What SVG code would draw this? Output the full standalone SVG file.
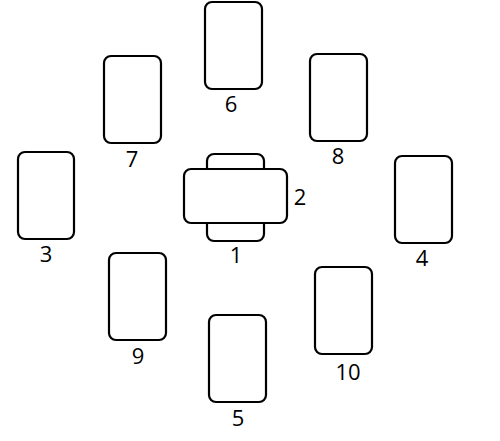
<svg xmlns="http://www.w3.org/2000/svg" width="500" height="441" viewBox="0 0 500 441">
<style>
.card{fill:#fff;stroke:#000;stroke-width:2.2}
.lbl{font-family:"Open Sans","Liberation Sans",sans-serif;font-size:22px;fill:#000;text-anchor:middle}
</style>
<rect width="500" height="441" fill="#fff"/>
<g id="connectors"></g>
<g id="node6"><rect class="card" x="205" y="2" width="57" height="87" rx="7"/><text class="lbl" x="231" y="112">6</text></g>
<g id="node7"><rect class="card" x="104" y="56" width="57" height="87" rx="7"/><text class="lbl" x="132" y="167">7</text></g>
<g id="node8"><rect class="card" x="310" y="54" width="57" height="87" rx="7"/><text class="lbl" x="338" y="164">8</text></g>
<g id="node3"><rect class="card" x="18" y="152" width="56" height="87" rx="7"/><text class="lbl" x="46" y="262">3</text></g>
<g id="node4"><rect class="card" x="395" y="156" width="57" height="87" rx="7"/><text class="lbl" x="422" y="266">4</text></g>
<g id="node1"><rect class="card" x="207" y="154" width="57" height="87" rx="7"/><text class="lbl" x="236" y="263">1</text></g>
<g id="node2"><rect class="card" x="184" y="169" width="103" height="54" rx="7"/><text class="lbl" x="300" y="205">2</text></g>
<g id="node9"><rect class="card" x="109" y="253" width="57" height="87" rx="7"/><text class="lbl" x="138" y="364">9</text></g>
<g id="node10"><rect class="card" x="315" y="267" width="57" height="87" rx="7"/><text class="lbl" x="348" y="380">10</text></g>
<g id="node5"><rect class="card" x="209" y="315" width="57" height="87" rx="7"/><text class="lbl" x="238" y="426">5</text></g>
</svg>
